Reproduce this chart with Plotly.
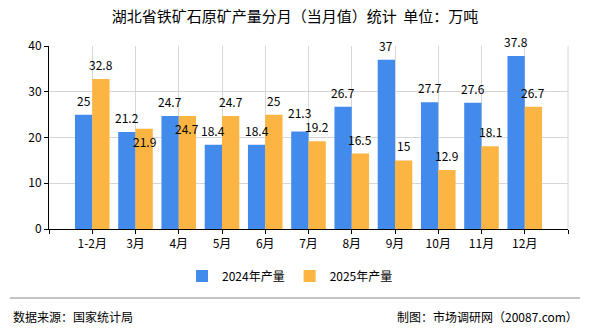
import plotly.graph_objects as go

months = ["1-2月", "3月", "4月", "5月", "6月", "7月", "8月", "9月", "10月", "11月", "12月"]
values_2024 = [25, 21.2, 24.7, 18.4, 18.4, 21.3, 26.7, 37, 27.7, 27.6, 37.8]
values_2025 = [32.8, 21.9, 24.7, 24.7, 25, 19.2, 16.5, 15, 12.9, 18.1, 26.7]
series_names = ["2024年产量", "2025年产量"]
y_ticks = [0, 10, 20, 30, 40]

title_text = "湖北省铁矿石原矿产量分月（当月值）统计  单位：万吨"
source_text = "数据来源：国家统计局"
credit_text = "制图：市场调研网（20087.com）"

BLUE = "#428BEC"
ORANGE = "#FCB443"
FONT = "Noto Sans CJK SC, Liberation Sans, sans-serif"

W, H = 590, 330
L, R, T, B = 49, 22, 46, 101
plot_w = W - L - R
plot_h = H - T - B
BARGAP = 0.2
Y_MAX = 40
px_per_unit = plot_h / Y_MAX
LABEL_H = 14

def px_x(x):
    return (x - L) / plot_w

def px_y(y):
    return (H - B - y) / plot_h

positions = list(range(1, len(months) + 1))
bar_w = (1 - BARGAP) / 2
offset = bar_w / 2

fig = go.Figure()
fig.add_trace(go.Bar(x=positions, y=values_2024, name=series_names[0], marker_color=BLUE,
                     marker_line_width=0))
fig.add_trace(go.Bar(x=positions, y=values_2025, name=series_names[1], marker_color=ORANGE,
                     marker_line_width=0))

label_font = dict(size=12, color="#000000", family=FONT)
annotations = []
for p, a, b in zip(positions, values_2024, values_2025):
    d_px = abs(a - b) * px_per_unit
    shift_a, shift_b = 4, 4
    anchor_b = "bottom"
    if abs(a - b) < 1.5:
        anchor_b, shift_b = "top", -2
    elif d_px < LABEL_H:
        extra = LABEL_H - d_px
        if a > b:
            shift_a += extra
        else:
            shift_b += extra
    annotations.append(dict(x=p - offset, y=a, xref="x", yref="y", text=f"{a:g}",
                            showarrow=False, yanchor="bottom", yshift=shift_a, font=label_font))
    annotations.append(dict(x=p + offset, y=b, xref="x", yref="y", text=f"{b:g}",
                            showarrow=False, yanchor=anchor_b, yshift=shift_b, font=label_font))

annotations += [
    dict(text=source_text, xref="paper", yref="paper", x=px_x(11), y=px_y(316),
         xanchor="left", yanchor="middle", showarrow=False,
         font=dict(size=12, color="#000000", family=FONT)),
    dict(text=credit_text, xref="paper", yref="paper", x=px_x(580), y=px_y(316),
         xanchor="right", yanchor="middle", showarrow=False,
         font=dict(size=12, color="#000000", family=FONT)),
]

tickvals = list(range(0, len(months) + 2))
ticktext = [""] + months + [""]

fig.update_layout(
    width=W, height=H,
    margin=dict(l=L, r=R, t=T, b=B),
    paper_bgcolor="white", plot_bgcolor="white",
    barmode="group", bargap=BARGAP, bargroupgap=0,
    font=dict(family=FONT, size=12, color="#000000"),
    title=dict(text=title_text, x=0.5, xanchor="center", y=1 - 17 / H, yanchor="middle",
               font=dict(size=15, color="#000000", family=FONT)),
    showlegend=True,
    legend=dict(orientation="h", x=px_x(290), xanchor="center", y=px_y(276), yanchor="middle",
                font=dict(size=12, color="#000000", family=FONT), itemwidth=30,
                traceorder="normal"),
    xaxis=dict(range=[0, len(months) + 1], tickmode="array", tickvals=tickvals, ticktext=ticktext,
               showgrid=True, gridcolor="#d6d6d6", gridwidth=1,
               showline=True, linecolor="#000000", linewidth=1,
               ticks="outside", ticklen=4, tickcolor="#000000",
               tickfont=dict(size=12, color="#000000"), zeroline=False, fixedrange=True),
    yaxis=dict(range=[0, Y_MAX], tickmode="array", tickvals=y_ticks,
               showgrid=True, gridcolor="#d6d6d6", gridwidth=1,
               showline=True, linecolor="#000000", linewidth=1,
               ticks="outside", ticklen=4, tickcolor="#000000",
               tickfont=dict(size=12, color="#000000"), zeroline=False, fixedrange=True),
    shapes=[
        dict(type="line", xref="paper", yref="paper", x0=1, x1=1, y0=0, y1=1,
             line=dict(color="#d6d6d6", width=1)),
        dict(type="line", xref="paper", yref="paper", x0=px_x(10), x1=px_x(580),
             y0=px_y(298), y1=px_y(298), line=dict(color="#888888", width=1)),
    ],
    annotations=annotations,
)

fig.write_html("out.html")
